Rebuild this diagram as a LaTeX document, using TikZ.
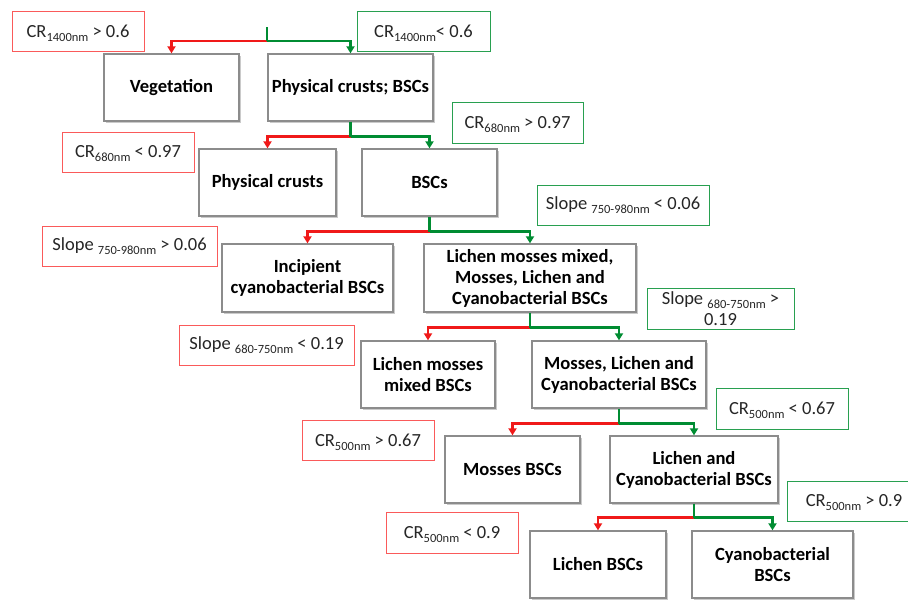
\documentclass[tikz,border=0pt]{standalone}
\usepackage{fontspec}
\setmainfont{Carlito}
\usetikzlibrary{shadows,arrows.meta,calc}
\definecolor{arrred}{RGB}{240,25,25}
\definecolor{arrgreen}{RGB}{0,140,50}
\definecolor{labred}{RGB}{250,90,90}
\definecolor{labgreen}{RGB}{40,160,80}
\definecolor{boxgray}{RGB}{140,140,140}
\newcommand{\sbs}[1]{\raisebox{-4pt}[0pt][0pt]{\fontsize{12.5}{13}\selectfont #1}}
\begin{document}
\begin{tikzpicture}[x=1pt,y=-1pt,
  box/.style={draw=boxgray, line width=1.3pt, fill=white, align=center,
    font=\fontsize{18.6}{21}\selectfont\bfseries, inner sep=0pt,
    drop shadow={shadow xshift=1.8pt, shadow yshift=-1.8pt, opacity=0.35, fill=black!60}},
  lab/.style={line width=1pt, fill=white, align=center, text=black!85,
    font=\fontsize{18.5}{20}\selectfont, inner sep=0pt},
  rlab/.style={lab, draw=labred},
  glab/.style={lab, draw=labgreen},
  tipst/.style={-{Triangle[length=7pt,width=8pt]}},
  rarr/.style={draw=arrred, line width=2.6pt, tipst},
  garr/.style={draw=arrgreen, line width=2.6pt, tipst},
  gline/.style={draw=arrgreen, line width=2.6pt}
]
\useasboundingbox (0,0) rectangle (908,600);

% boxes
\node[box, minimum width=135pt, minimum height=67pt] (veg) at (171.5,87.5) {Vegetation};
\node[box, minimum width=165pt, minimum height=67pt] (pcb) at (350.5,87.5) {Physical crusts; BSCs};
\node[box, minimum width=137pt, minimum height=67pt] (pc) at (267.5,182.5) {Physical crusts};
\node[box, minimum width=135pt, minimum height=67pt] (bsc) at (429.5,182.5) {BSCs};
\node[box, minimum width=171pt, minimum height=68pt] (inc) at (307.5,278) {Incipient\\cyanobacterial BSCs};
\node[box, minimum width=212pt, minimum height=68pt] (lmm) at (530,278) {Lichen mosses mixed,\\Mosses, Lichen and\\Cyanobacterial BSCs};
\node[box, minimum width=134pt, minimum height=67pt] (lmb) at (428,374.5) {Lichen mosses\\mixed BSCs};
\node[box, minimum width=174pt, minimum height=67pt] (mlc) at (619,374.5) {Mosses, Lichen and\\Cyanobacterial BSCs};
\node[box, minimum width=135pt, minimum height=67pt] (mos) at (512.5,469.5) {Mosses BSCs};
\node[box, minimum width=168pt, minimum height=67pt] (lc) at (694,469.5) {Lichen and\\Cyanobacterial BSCs};
\node[box, minimum width=136pt, minimum height=67pt] (lich) at (598,564.5) {Lichen BSCs};
\node[box, minimum width=161pt, minimum height=67pt] (cyan) at (772.5,564.5) {Cyanobacterial\\BSCs};

% labels
\node[rlab, minimum width=132pt, minimum height=40pt] (l1r) at (78,31) {CR\sbs{1400nm} > 0.6};
\node[glab, minimum width=133pt, minimum height=40pt] (l1g) at (423.5,31) {CR\sbs{1400nm}< 0.6};
\node[rlab, minimum width=132pt, minimum height=40pt] (l2r) at (128,152) {CR\sbs{680nm} < 0.97};
\node[glab, minimum width=131pt, minimum height=41pt] (l2g) at (517.5,122.5) {CR\sbs{680nm} > 0.97};
\node[rlab, minimum width=175pt, minimum height=40pt] (l3r) at (129.5,246) {Slope \sbs{750-980nm} > 0.06};
\node[glab, minimum width=172pt, minimum height=40pt] (l3g) at (623,205) {Slope \sbs{750-980nm} < 0.06};
\node[rlab, minimum width=175pt, minimum height=40pt] (l4r) at (266.5,345) {Slope \sbs{680-750nm} < 0.19};
\node[glab, minimum width=147pt, minimum height=41pt, font=\fontsize{18.5}{20.5}\selectfont] (l4g) at (720.5,308.5) {Slope \sbs{680-750nm} >\\0.19};
\node[rlab, minimum width=132pt, minimum height=40pt] (l5r) at (368,440) {CR\sbs{500nm} > 0.67};
\node[glab, minimum width=132pt, minimum height=41pt] (l5g) at (782,408.5) {CR\sbs{500nm} < 0.67};
\node[rlab, minimum width=132pt, minimum height=41pt] (l6r) at (452,532.5) {CR\sbs{500nm} < 0.9};
\node[glab, minimum width=134pt, minimum height=40pt] (l6g) at (854,501) {CR\sbs{500nm} > 0.9};

% connectors
\coordinate (s0) at (267,27);
\coordinate (j1) at (267,41);
\draw[rarr] (j1) -| (veg.north);
\draw[garr] (j1) -| (pcb.north);
\draw[gline] (s0) -- (j1);

\coordinate (j2) at ($(pcb.south)+(0,15)$);
\draw[rarr] (j2) -| (pc.north);
\draw[garr] (j2) -| (bsc.north);
\draw[gline] (pcb.south) -- (j2);

\coordinate (j3) at ($(bsc.south)+(0,15)$);
\draw[rarr] (j3) -| (inc.north);
\draw[garr] (j3) -| (lmm.north);
\draw[gline] (bsc.south) -- (j3);

\coordinate (j4) at ($(lmm.south)+(0,15)$);
\draw[rarr] (j4) -| (lmb.north);
\draw[garr] (j4) -| (mlc.north);
\draw[gline] (lmm.south) -- (j4);

\coordinate (j5) at ($(mlc.south)+(0,15)$);
\draw[rarr] (j5) -| (mos.north);
\draw[garr] (j5) -| (lc.north);
\draw[gline] (mlc.south) -- (j5);

\coordinate (j6) at ($(lc.south)+(0,14)$);
\draw[rarr] (j6) -| (lich.north);
\draw[garr] (j6) -| (cyan.north);
\draw[gline] (lc.south) -- (j6);
\end{tikzpicture}
\end{document}
